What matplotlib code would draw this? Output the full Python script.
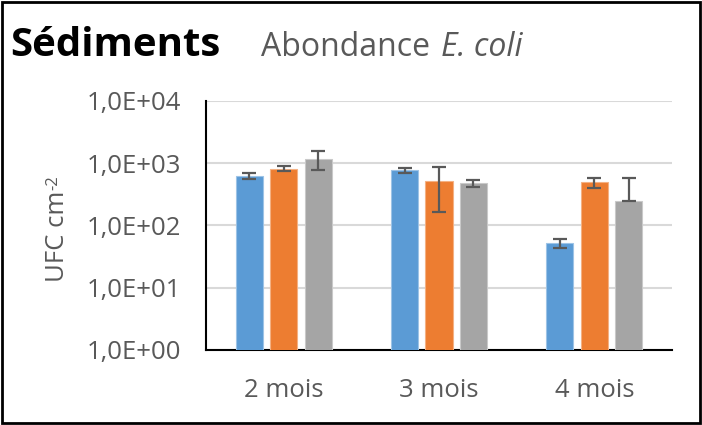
import matplotlib
matplotlib.use("Agg")
import matplotlib.pyplot as plt
import numpy as np
from matplotlib.patches import Rectangle
from matplotlib.ticker import FixedLocator, NullLocator

plt.rcParams["font.family"] = ["Open Sans", "DejaVu Sans"]

# ---- data ----
categories = ["2 mois", "3 mois", "4 mois"]
serie_a = [624, 771, 52]        # blue
serie_b = [819, 525, 494]       # orange
serie_c = [1186, 475, 244]      # gray
err_a = [66, 82, 9]
err_b = [76, 360, 92]
err_c = [395, 58, 342]
err_c_low = [395, 58, 0]        # lower bar clipped on log scale
yticks = [1, 10, 100, 1000, 10000]
ytick_labels = ["1,0E+00", "1,0E+01", "1,0E+02", "1,0E+03", "1,0E+04"]

BLUE, ORANGE, GRAY = "#5b9bd5", "#ed7d31", "#a5a5a5"
TXT = "#595959"

fig = plt.figure(figsize=(7.02, 4.25), dpi=100)
ax = fig.add_axes([206 / 702, 1 - 350 / 425, 466 / 702, 249 / 425])

x = np.arange(len(categories))
w = 0.174
step = 0.222
ekw = dict(ecolor=TXT, elinewidth=1.6, capsize=5, capthick=1.6)
ax.bar(x - step, serie_a, w, color=BLUE, edgecolor="#9dc3e6", linewidth=0.8,
       yerr=[err_a, err_a], error_kw=ekw, zorder=3)
ax.bar(x, serie_b, w, color=ORANGE, edgecolor="#f4b183", linewidth=0.8,
       yerr=[err_b, err_b], error_kw=ekw, zorder=3)
ax.bar(x + step, serie_c, w, color=GRAY, edgecolor="#c9c9c9", linewidth=0.8,
       yerr=[err_c_low, err_c], error_kw=ekw, zorder=3)

ax.set_yscale("log")
ax.set_ylim(1, 10000)
ax.set_xlim(-0.5, 2.5)
ax.yaxis.set_major_locator(FixedLocator(yticks))
ax.yaxis.set_minor_locator(NullLocator())
ax.set_yticklabels(ytick_labels)
ax.set_xticks(x)
ax.set_xticklabels(categories)
ax.tick_params(axis="both", length=0, labelsize=18.5, colors=TXT)
ax.tick_params(axis="y", pad=18)
ax.tick_params(axis="x", pad=20)
ax.grid(axis="y", color="#d9d9d9", linewidth=1.5, zorder=0)
ax.set_axisbelow(True)
for s in ("top", "right"):
    ax.spines[s].set_visible(False)
for s in ("left", "bottom"):
    ax.spines[s].set_color("black")
    ax.spines[s].set_linewidth(1.5)

renderer = fig.canvas.get_renderer()
inv = fig.transFigure.inverted()

# y label with a hyphen superscript
yl = fig.text(57 / 702, 1 - 282 / 425, "UFC cm", rotation=90, ha="center",
              va="bottom", fontsize=18.5, color=TXT)
bb = yl.get_window_extent(renderer)
x0, y1 = inv.transform((bb.x0 + 1, bb.y1 + 1))
fig.text(x0, y1, "-2", rotation=90, ha="left", va="bottom", fontsize=12, color=TXT)

# title
fig.text(10 / 702, 1 - 46 / 425, "Sédiments", fontsize=29, fontweight="bold",
         color="black", ha="left", va="center")
t1 = fig.text(261 / 702, 1 - 47 / 425, "Abondance", fontsize=23, color=TXT,
              ha="left", va="center")
bb = t1.get_window_extent(renderer)
fig.text(inv.transform((bb.x1 + 11, 0))[0], 1 - 47 / 425, "E. coli", fontsize=23,
         color=TXT, style="italic", ha="left", va="center")

fig.patches.append(Rectangle((0.003, 0.004), 0.994, 0.992, transform=fig.transFigure,
                             fill=False, edgecolor="black", linewidth=2))

fig.savefig("out.png", dpi=100)
